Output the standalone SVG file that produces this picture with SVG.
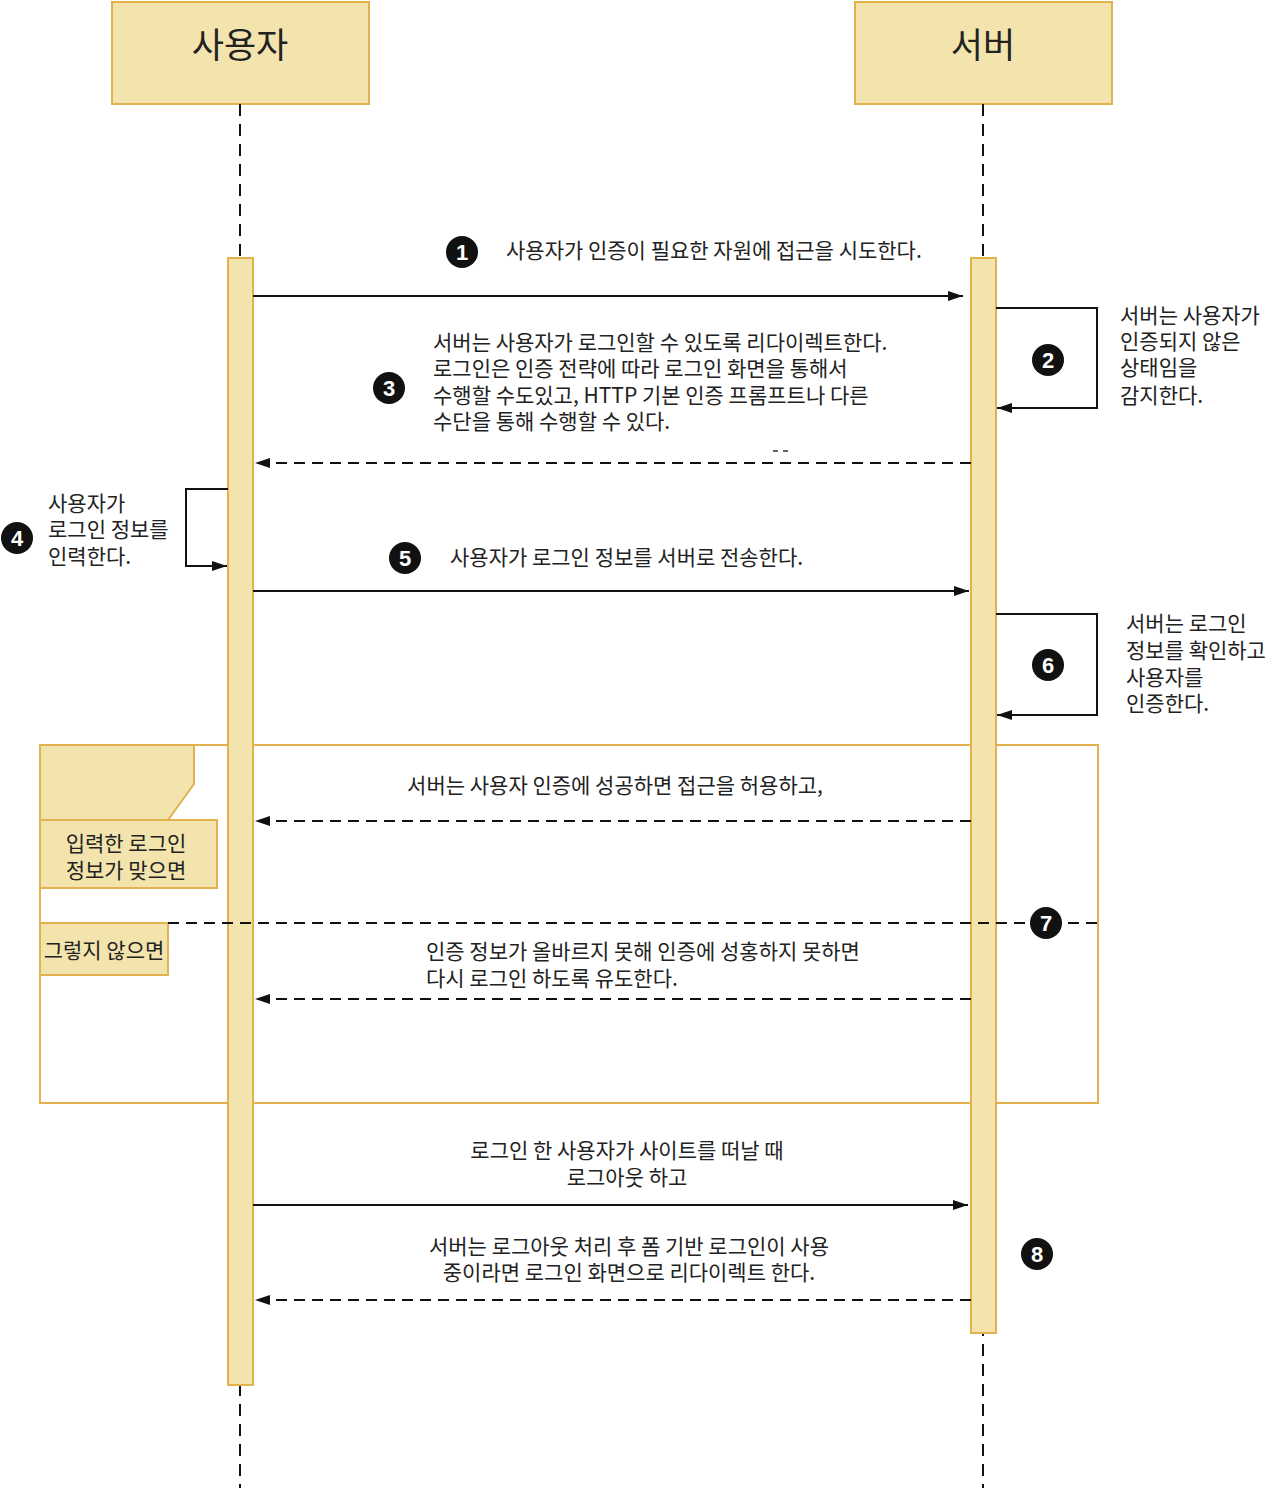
<svg xmlns="http://www.w3.org/2000/svg" width="1280" height="1488" viewBox="0 0 1280 1488">
<style>
.box{fill:#f3e4ad;stroke:#e2b24f;stroke-width:2}
.frame{fill:none;stroke:#e2b24f;stroke-width:2}
.life{stroke:#111;stroke-width:2;stroke-dasharray:12 8;fill:none}
.msg{stroke:#111;stroke-width:2;fill:none}
.ret{stroke:#111;stroke-width:2;fill:none;stroke-dasharray:11 7}
.t{font-family:"Noto Sans CJK KR","Noto Sans",sans-serif;font-size:21px;fill:#222}
.title{font-family:"Noto Sans CJK KR","Noto Sans",sans-serif;font-size:35px;fill:#222;text-anchor:middle}
.num{font-family:"Liberation Sans","DejaVu Sans",sans-serif;font-size:22px;font-weight:bold;fill:#fff;text-anchor:middle}
</style>
<defs>
<marker id="ah" markerUnits="userSpaceOnUse" markerWidth="16" markerHeight="12" refX="15" refY="6" orient="auto">
<path d="M0,1 L15,6 L0,11 Z" fill="#111"/>
</marker>
</defs>
<rect width="1280" height="1488" fill="#fff"/>

<g id="fragment">
<rect class="frame" x="40" y="745" width="1058" height="358"/>
<polygon class="box" points="40,745 194,745 194,784 168,820 40,820"/>
<rect class="box" x="40" y="820" width="177" height="68"/>
<text class="t" x="126" y="851" text-anchor="middle">입력한 로그인</text>
<text class="t" x="126" y="878" text-anchor="middle">정보가 맞으면</text>
<rect class="box" x="40" y="923" width="128" height="52"/>
<text class="t" x="104" y="958" text-anchor="middle">그렇지 않으면</text>
</g>

<g id="user">
<rect class="box" x="112" y="2" width="257" height="102"/>
<text class="title" x="240" y="58">사용자</text>
<line class="life" x1="240" y1="104" x2="240" y2="1488"/>
<rect class="box" x="228" y="258" width="25" height="1127"/>
</g>

<g id="server">
<rect class="box" x="855" y="2" width="257" height="102"/>
<text class="title" x="983" y="58">서버</text>
<line class="life" x1="983" y1="104" x2="983" y2="1488"/>
<rect class="box" x="971" y="258" width="25" height="1075"/>
</g>

<g id="connectors">
<line x1="168" y1="923" x2="1098" y2="923" class="ret"/>
<line class="msg" x1="253" y1="296" x2="963" y2="296" marker-end="url(#ah)"/>
<polyline class="msg" points="996,308 1097,308 1097,408 997,408" marker-end="url(#ah)"/>
<line class="ret" x1="971" y1="463" x2="255" y2="463" marker-end="url(#ah)"/>
<polyline class="msg" points="228,489 186,489 186,566 227,566" marker-end="url(#ah)"/>
<line class="msg" x1="253" y1="591" x2="969" y2="591" marker-end="url(#ah)"/>
<polyline class="msg" points="996,614 1097,614 1097,715 997,715" marker-end="url(#ah)"/>
<line class="ret" x1="971" y1="821" x2="255" y2="821" marker-end="url(#ah)"/>
<line class="ret" x1="971" y1="999" x2="255" y2="999" marker-end="url(#ah)"/>
<line class="msg" x1="253" y1="1205" x2="968" y2="1205" marker-end="url(#ah)"/>
<line class="ret" x1="971" y1="1300" x2="255" y2="1300" marker-end="url(#ah)"/>
<line x1="773" y1="451" x2="778" y2="451" stroke="#333" stroke-width="1.5"/>
<line x1="783" y1="451" x2="788" y2="451" stroke="#333" stroke-width="1.5"/>
</g>

<g id="labels">
<circle cx="462" cy="252" r="16" fill="#111"/><text class="num" x="462" y="260">1</text>
<text class="t" x="506" y="258">사용자가 인증이 필요한 자원에 접근을 시도한다.</text>

<circle cx="1048" cy="360" r="16" fill="#111"/><text class="num" x="1048" y="368">2</text>
<text class="t" x="1120" y="323">서버는 사용자가</text>
<text class="t" x="1120" y="349">인증되지 않은</text>
<text class="t" x="1120" y="375">상태임을</text>
<text class="t" x="1120" y="403">감지한다.</text>

<circle cx="389" cy="388" r="16" fill="#111"/><text class="num" x="389" y="396">3</text>
<text class="t" x="433" y="350">서버는 사용자가 로그인할 수 있도록 리다이렉트한다.</text>
<text class="t" x="433" y="376">로그인은 인증 전략에 따라 로그인 화면을 통해서</text>
<text class="t" x="433" y="403">수행할 수도있고, HTTP 기본 인증 프롬프트나 다른</text>
<text class="t" x="433" y="429">수단을 통해 수행할 수 있다.</text>

<circle cx="17" cy="538" r="16" fill="#111"/><text class="num" x="17" y="546">4</text>
<text class="t" x="48" y="511">사용자가</text>
<text class="t" x="48" y="537">로그인 정보를</text>
<text class="t" x="48" y="564">인력한다.</text>

<circle cx="405" cy="558" r="16" fill="#111"/><text class="num" x="405" y="566">5</text>
<text class="t" x="450" y="565">사용자가 로그인 정보를 서버로 전송한다.</text>

<circle cx="1048" cy="665" r="16" fill="#111"/><text class="num" x="1048" y="673">6</text>
<text class="t" x="1126" y="631">서버는 로그인</text>
<text class="t" x="1126" y="658">정보를 확인하고</text>
<text class="t" x="1126" y="685">사용자를</text>
<text class="t" x="1126" y="711">인증한다.</text>

<text class="t" x="615" y="793" text-anchor="middle">서버는 사용자 인증에 성공하면 접근을 허용하고,</text>

<circle cx="1046" cy="923" r="16" fill="#111"/><text class="num" x="1046" y="931">7</text>
<text class="t" x="426" y="959">인증 정보가 올바르지 못해 인증에 성홍하지 못하면</text>
<text class="t" x="426" y="986">다시 로그인 하도록 유도한다.</text>

<text class="t" x="627" y="1158" text-anchor="middle">로그인 한 사용자가 사이트를 떠날 때</text>
<text class="t" x="627" y="1185" text-anchor="middle">로그아웃 하고</text>
<text class="t" x="629" y="1254" text-anchor="middle">서버는 로그아웃 처리 후 폼 기반 로그인이 사용</text>
<text class="t" x="629" y="1280" text-anchor="middle">중이라면 로그인 화면으로 리다이렉트 한다.</text>
<circle cx="1037" cy="1254" r="16" fill="#111"/><text class="num" x="1037" y="1262">8</text>
</g>
</svg>
